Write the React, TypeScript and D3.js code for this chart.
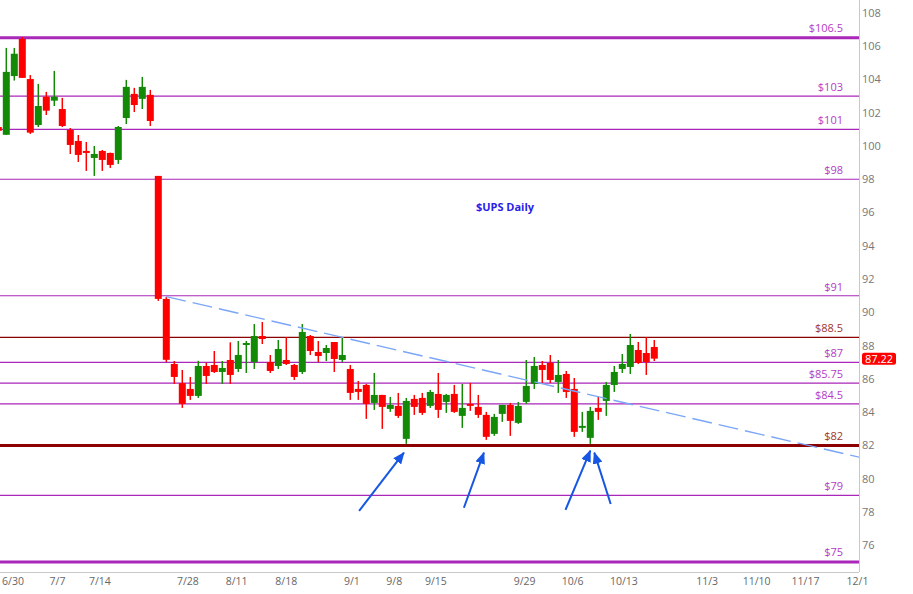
import * as d3 from "d3";

// candles, one per trading day, index -1 is the partial one at the left edge
const firstIndex = -1;
const opens = [
  101.14, 100.67, 104.2, 106.43, 104.02, 101.26, 102.96, 102.72, 102.22, 100.96,
  100.3, 99.7, 99.28, 99.7, 99.58, 99.16, 101.68, 103.13, 102.83, 103.07,
  98.2, 90.81, 86.9, 85.75, 85.4, 84.98, 86.78, 86.84, 86.42, 87.14,
  86.6, 88.04, 87.02, 88.58, 87.02, 86.78, 87.14, 86.84, 86.42, 88.58,
  87.62, 87.56, 88.22, 87.14, 86.6, 85.4, 85.64, 84.56, 85.04, 84.2,
  84.38, 82.4, 84.8, 84.86, 84.38, 85.1, 84.62, 85.1, 83.78, 84.5,
  84.32, 83.84, 82.7, 83.9, 84.44, 83.36, 84.62, 85.7, 86.84, 86.96,
  85.82, 86.3, 85.4, 83.06, 82.46, 84.26, 84.68, 85.64, 86.6, 86.72,
  87.74, 87.56, 87.92,
];
const highs = [
  101.2, 105.89, 105.89, 106.55, 104.26, 103.73, 103.25, 104.51, 102.89, 101.08,
  100.66, 100.24, 100.0, 99.76, 99.6, 101.2, 103.97, 103.49, 104.15, 103.37,
  98.2, 90.93, 87.08, 86.54, 86.12, 87.09, 86.97, 87.68, 87.08, 88.2,
  88.28, 88.28, 89.3, 89.42, 87.44, 88.34, 88.52, 86.9, 89.3, 88.64,
  88.28, 88.04, 88.22, 88.52, 86.84, 85.88, 85.7, 86.36, 85.04, 84.92,
  85.16, 84.86, 85.04, 85.16, 85.34, 86.36, 85.1, 85.64, 85.7, 85.76,
  85.04, 84.02, 83.9, 84.44, 84.56, 84.62, 87.14, 87.32, 87.08, 87.44,
  87.14, 86.48, 86.06, 84.02, 84.32, 84.92, 85.82, 86.78, 87.5, 88.7,
  88.22, 88.52, 88.34,
];
const lows = [
  100.85, 100.67, 103.93, 104.09, 100.72, 101.14, 101.86, 102.4, 101.14, 99.52,
  99.04, 98.5, 98.2, 98.5, 98.68, 98.92, 101.32, 102.04, 102.22, 101.2,
  90.69, 87.02, 85.7, 84.26, 84.74, 84.86, 85.7, 86.36, 85.7, 85.7,
  86.42, 86.36, 86.6, 88.1, 86.36, 86.6, 86.84, 85.94, 86.3, 87.44,
  87.02, 87.08, 86.42, 87.02, 84.74, 84.74, 83.6, 84.14, 83.0, 84.02,
  83.66, 82.1, 83.84, 83.84, 84.26, 83.66, 83.96, 83.96, 83.06, 84.08,
  83.66, 82.34, 82.58, 83.42, 82.58, 83.3, 84.5, 85.4, 85.7, 85.76,
  85.16, 84.86, 82.52, 82.82, 82.1, 83.54, 83.78, 85.22, 86.36, 86.3,
  86.9, 86.24, 87.08,
];
const closes = [
  100.91, 104.45, 105.54, 104.09, 100.8, 102.4, 102.12, 102.96, 101.2, 100.06,
  99.46, 99.58, 99.52, 99.16, 98.86, 101.14, 103.55, 102.46, 103.55, 101.5,
  90.81, 87.15, 86.12, 84.5, 84.98, 86.78, 86.18, 86.42, 86.66, 86.24,
  87.44, 88.16, 88.58, 88.4, 86.48, 87.8, 86.9, 86.12, 88.82, 87.68,
  87.38, 87.86, 87.2, 87.44, 85.16, 85.22, 84.5, 85.04, 84.32, 84.44,
  83.78, 84.68, 84.32, 83.96, 85.22, 84.14, 85.04, 84.02, 84.26, 84.38,
  83.84, 82.52, 83.72, 84.44, 83.48, 84.38, 85.58, 86.78, 86.54, 85.94,
  86.24, 85.22, 82.82, 83.18, 84.08, 84.02, 85.64, 86.42, 86.9, 88.04,
  86.96, 87.02, 87.22,
];

// x axis labels and where they sit on the trading-day index
const xTickLabels = ["6/30", "7/7", "7/14", "7/28", "8/11", "8/18", "9/1", "9/8", "9/15", "9/29", "10/6", "10/13", "11/3", "11/10", "11/17", "12/1"];
const xTickAt = [0.84, 6.4, 11.7, 22.7, 28.8, 35.0, 43.2, 48.5, 53.7, 64.8, 70.8, 77.2, 87.6, 93.8, 99.9, 106.4];

const yTicks = d3.range(76, 109, 2);

// support / resistance levels
const levels = [106.5, 103, 101, 98, 91, 88.5, 87, 85.75, 84.5, 82, 79, 75];
const levelLabels = ["$106.5", "$103", "$101", "$98", "$91", "$88.5", "$87", "$85.75", "$84.5", "$82", "$79", "$75"];
const heavyLevels = [106.5, 82, 75];
const redLevels = [88.5, 82];

// trend line (index, price)
const trendIndex = [20, 106.6];
const trendPrice = [90.95, 81.3];

// arrows: tail -> tip, in (index, price)
const arrowTailIndex = [44.1, 57.2, 69.9, 75.55];
const arrowTailPrice = [78.07, 78.26, 78.13, 78.49];
const arrowTipIndex = [49.7, 59.7, 73.0, 73.5];
const arrowTipPrice = [81.57, 81.57, 81.69, 81.57];

const lastPrice = 87.22;
const title = "$UPS Daily";

const W = 913;
const H = 594;
const plotRight = 859;
const plotBottom = 572;

const UP = "#128a06";
const DOWN = "#ff0000";
const PURPLE = "#a927b9";
const DARKRED = "#8c0000";

export default function App() {
  const x = d3.scaleLinear().domain([0, 100]).range([6.3, 806.3]);
  const y = d3.scaleLinear().domain([74.4, 108.77]).range([plotBottom, 0]);
  const bodyW = 7;

  const candles = opens.map((o, k) => ({
    i: firstIndex + k,
    o,
    h: highs[k],
    l: lows[k],
    c: closes[k],
  }));

  const trend = d3
    .line<number>()
    .x((d) => x(d))
    .y((_, k) => y(trendPrice[k]));

  const font = "'Open Sans', 'DejaVu Sans', sans-serif";

  return (
    <svg
      width={W}
      height={H}
      viewBox={`0 0 ${W} ${H}`}
      style={{ position: "absolute", left: 0, top: 0, background: "#fff" }}
      fontFamily={font}
    >
      <defs>
        <clipPath id="plot">
          <rect x={0} y={0} width={plotRight} height={plotBottom} />
        </clipPath>
        <marker
          id="head"
          viewBox="0 0 12 10"
          refX={11}
          refY={5}
          markerWidth={12}
          markerHeight={10}
          markerUnits="userSpaceOnUse"
          orient="auto"
        >
          <path d="M0,0 L12,5 L0,10 Z" fill="#1656e2" />
        </marker>
      </defs>

      {/* axes frame */}
      <line x1={plotRight + 0.5} x2={plotRight + 0.5} y1={0} y2={plotBottom} stroke="#c8c8c8" />
      <line x1={0} x2={plotRight} y1={plotBottom + 0.5} y2={plotBottom + 0.5} stroke="#c8c8c8" />

      {/* y axis labels */}
      {yTicks.map((t) => (
        <text key={t} x={862} y={y(t)} dy="0.35em" fontSize={11} fill="#777">
          {t}
        </text>
      ))}

      {/* x axis labels */}
      {xTickLabels.map((lab, k) => (
        <text key={lab} x={x(xTickAt[k])} y={585} textAnchor="middle" fontSize={10.5} fill="#666">
          {lab}
        </text>
      ))}

      <g clipPath="url(#plot)">
        {/* level lines */}
        {levels.map((v) => {
          const heavy = heavyLevels.includes(v);
          const red = redLevels.includes(v);
          return (
            <line
              key={v}
              x1={0}
              x2={plotRight}
              y1={y(v)}
              y2={y(v)}
              stroke={red ? DARKRED : PURPLE}
              strokeWidth={heavy ? 3 : 1.2}
            />
          );
        })}

        {/* candles */}
        {candles.map((d) => {
          const up = d.c >= d.o;
          const col = up ? UP : DOWN;
          const top = y(Math.max(d.o, d.c));
          const bot = y(Math.min(d.o, d.c));
          return (
            <g key={d.i}>
              <line x1={x(d.i)} x2={x(d.i)} y1={y(d.h)} y2={y(d.l)} stroke={col} strokeWidth={1.5} />
              <rect
                x={x(d.i) - bodyW / 2}
                y={top}
                width={bodyW}
                height={Math.max(bot - top, 1.5)}
                fill={col}
              />
            </g>
          );
        })}

        {/* trend line */}
        <path
          d={trend(trendIndex) || ""}
          fill="none"
          stroke="#7ba6f7"
          strokeWidth={1.4}
          strokeDasharray="20,7"
        />
      </g>

      {/* level labels */}
      {levels.map((v, k) => (
        <text
          key={v}
          x={843}
          y={y(v) - (heavyLevels.includes(v) ? 6 : 5)}
          textAnchor="end"
          fontSize={11}
          fill={redLevels.includes(v) ? "#a0342c" : "#b53bc6"}
        >
          {levelLabels[k]}
        </text>
      ))}

      {/* title */}
      <text x={505} y={211} textAnchor="middle" fontSize={11} fontWeight="bold" fill="#2a1ee8">
        {title}
      </text>

      {/* arrows */}
      {arrowTailIndex.map((ti, k) => (
        <line
          key={k}
          x1={x(ti)}
          y1={y(arrowTailPrice[k])}
          x2={x(arrowTipIndex[k])}
          y2={y(arrowTipPrice[k])}
          stroke="#1656e2"
          strokeWidth={2}
          markerEnd="url(#head)"
        />
      ))}

      {/* last price tag */}
      <rect x={862} y={y(lastPrice) - 6} width={34} height={12} rx={2.5} fill="#ff0000" />
      <text x={879} y={y(lastPrice)} dy="0.36em" textAnchor="middle" fontSize={11} fill="#fff">
        {lastPrice.toFixed(2)}
      </text>
    </svg>
  );
}
